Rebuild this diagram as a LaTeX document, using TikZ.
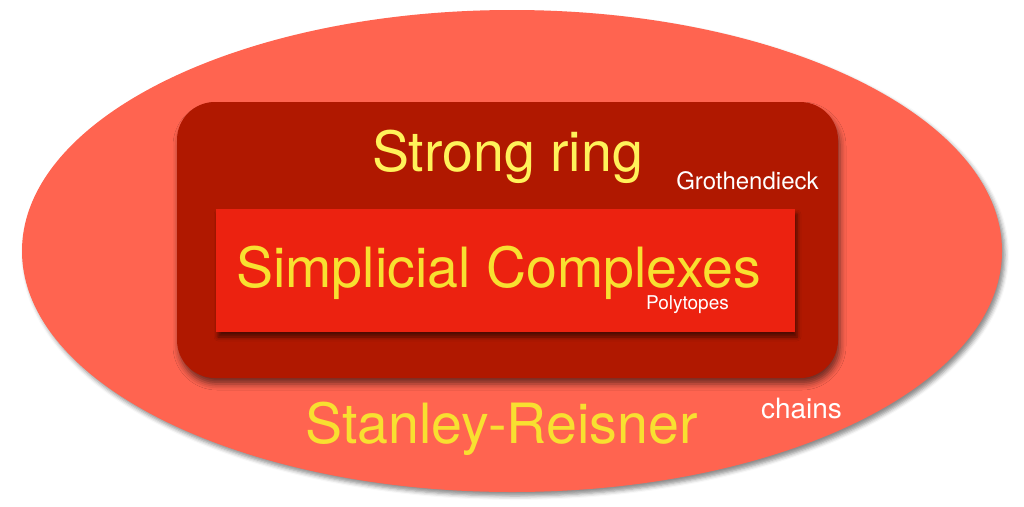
\documentclass[tikz,border=0pt]{standalone}
\usepackage{fontspec}
\setmainfont{TeX Gyre Heros}
\usepackage{tikz}
\usetikzlibrary{shapes.geometric, shadows.blur, positioning}
\definecolor{salmonbg}{HTML}{FF6450}
\definecolor{ringred}{HTML}{B01800}
\definecolor{cplxred}{HTML}{EC2210}
\definecolor{lightyel}{HTML}{FFF25A}
\definecolor{deepyel}{HTML}{F8E030}

\begin{document}
\begin{tikzpicture}[
  x=1pt, y=-1pt,
  region/.style={inner sep=0pt, outer sep=0pt},
  outer/.style={region, ellipse, fill=salmonbg, minimum width=980pt, minimum height=482pt,
                blur shadow={shadow xshift=3pt, shadow yshift=-4pt, shadow blur radius=4pt, shadow opacity=45}},
  ringbox/.style={region, rectangle, rounded corners=38pt, fill=ringred,
                  minimum width=661pt, minimum height=276pt,
                  blur shadow={shadow xshift=2pt, shadow yshift=-6pt, shadow blur radius=6pt, shadow opacity=55}},
  cplxbox/.style={region, rectangle, fill=cplxred, minimum width=579pt, minimum height=123pt,
                  blur shadow={shadow xshift=2pt, shadow yshift=-5pt, shadow blur radius=4pt, shadow opacity=55}},
  title/.style={anchor=base, inner sep=0pt, font=\fontsize{55.5}{62}\selectfont},
  note/.style={anchor=base, inner sep=0pt, text=white},
]
\useasboundingbox (0,0) rectangle (1024,506);

\node[outer]   (sr)   at (512,251)     {};
\node[ringbox] (ring) at (507.5,240)   {};
\node[cplxbox] (cplx) at (505.5,270.5) {};

% labels
\node[title, text=lightyel] (ringlbl) at (507.5,171)   {Strong ring};
\node[title, text=deepyel]  (cplxlbl) at (498.5,287) {Simplicial Complexes};
\node[title, text=deepyel]  (srlbl)   at (501.5,443) {Stanley-Reisner};

\node[note, font=\fontsize{24}{28}\selectfont] (groth) at (747.5,189) {Grothendieck};
\node[note, font=\fontsize{19}{22}\selectfont] (poly) at (687.5,309) {Polytopes};
\node[note, font=\fontsize{28}{32}\selectfont] (chains) at (801.5,418) {chains};
\end{tikzpicture}
\end{document}
